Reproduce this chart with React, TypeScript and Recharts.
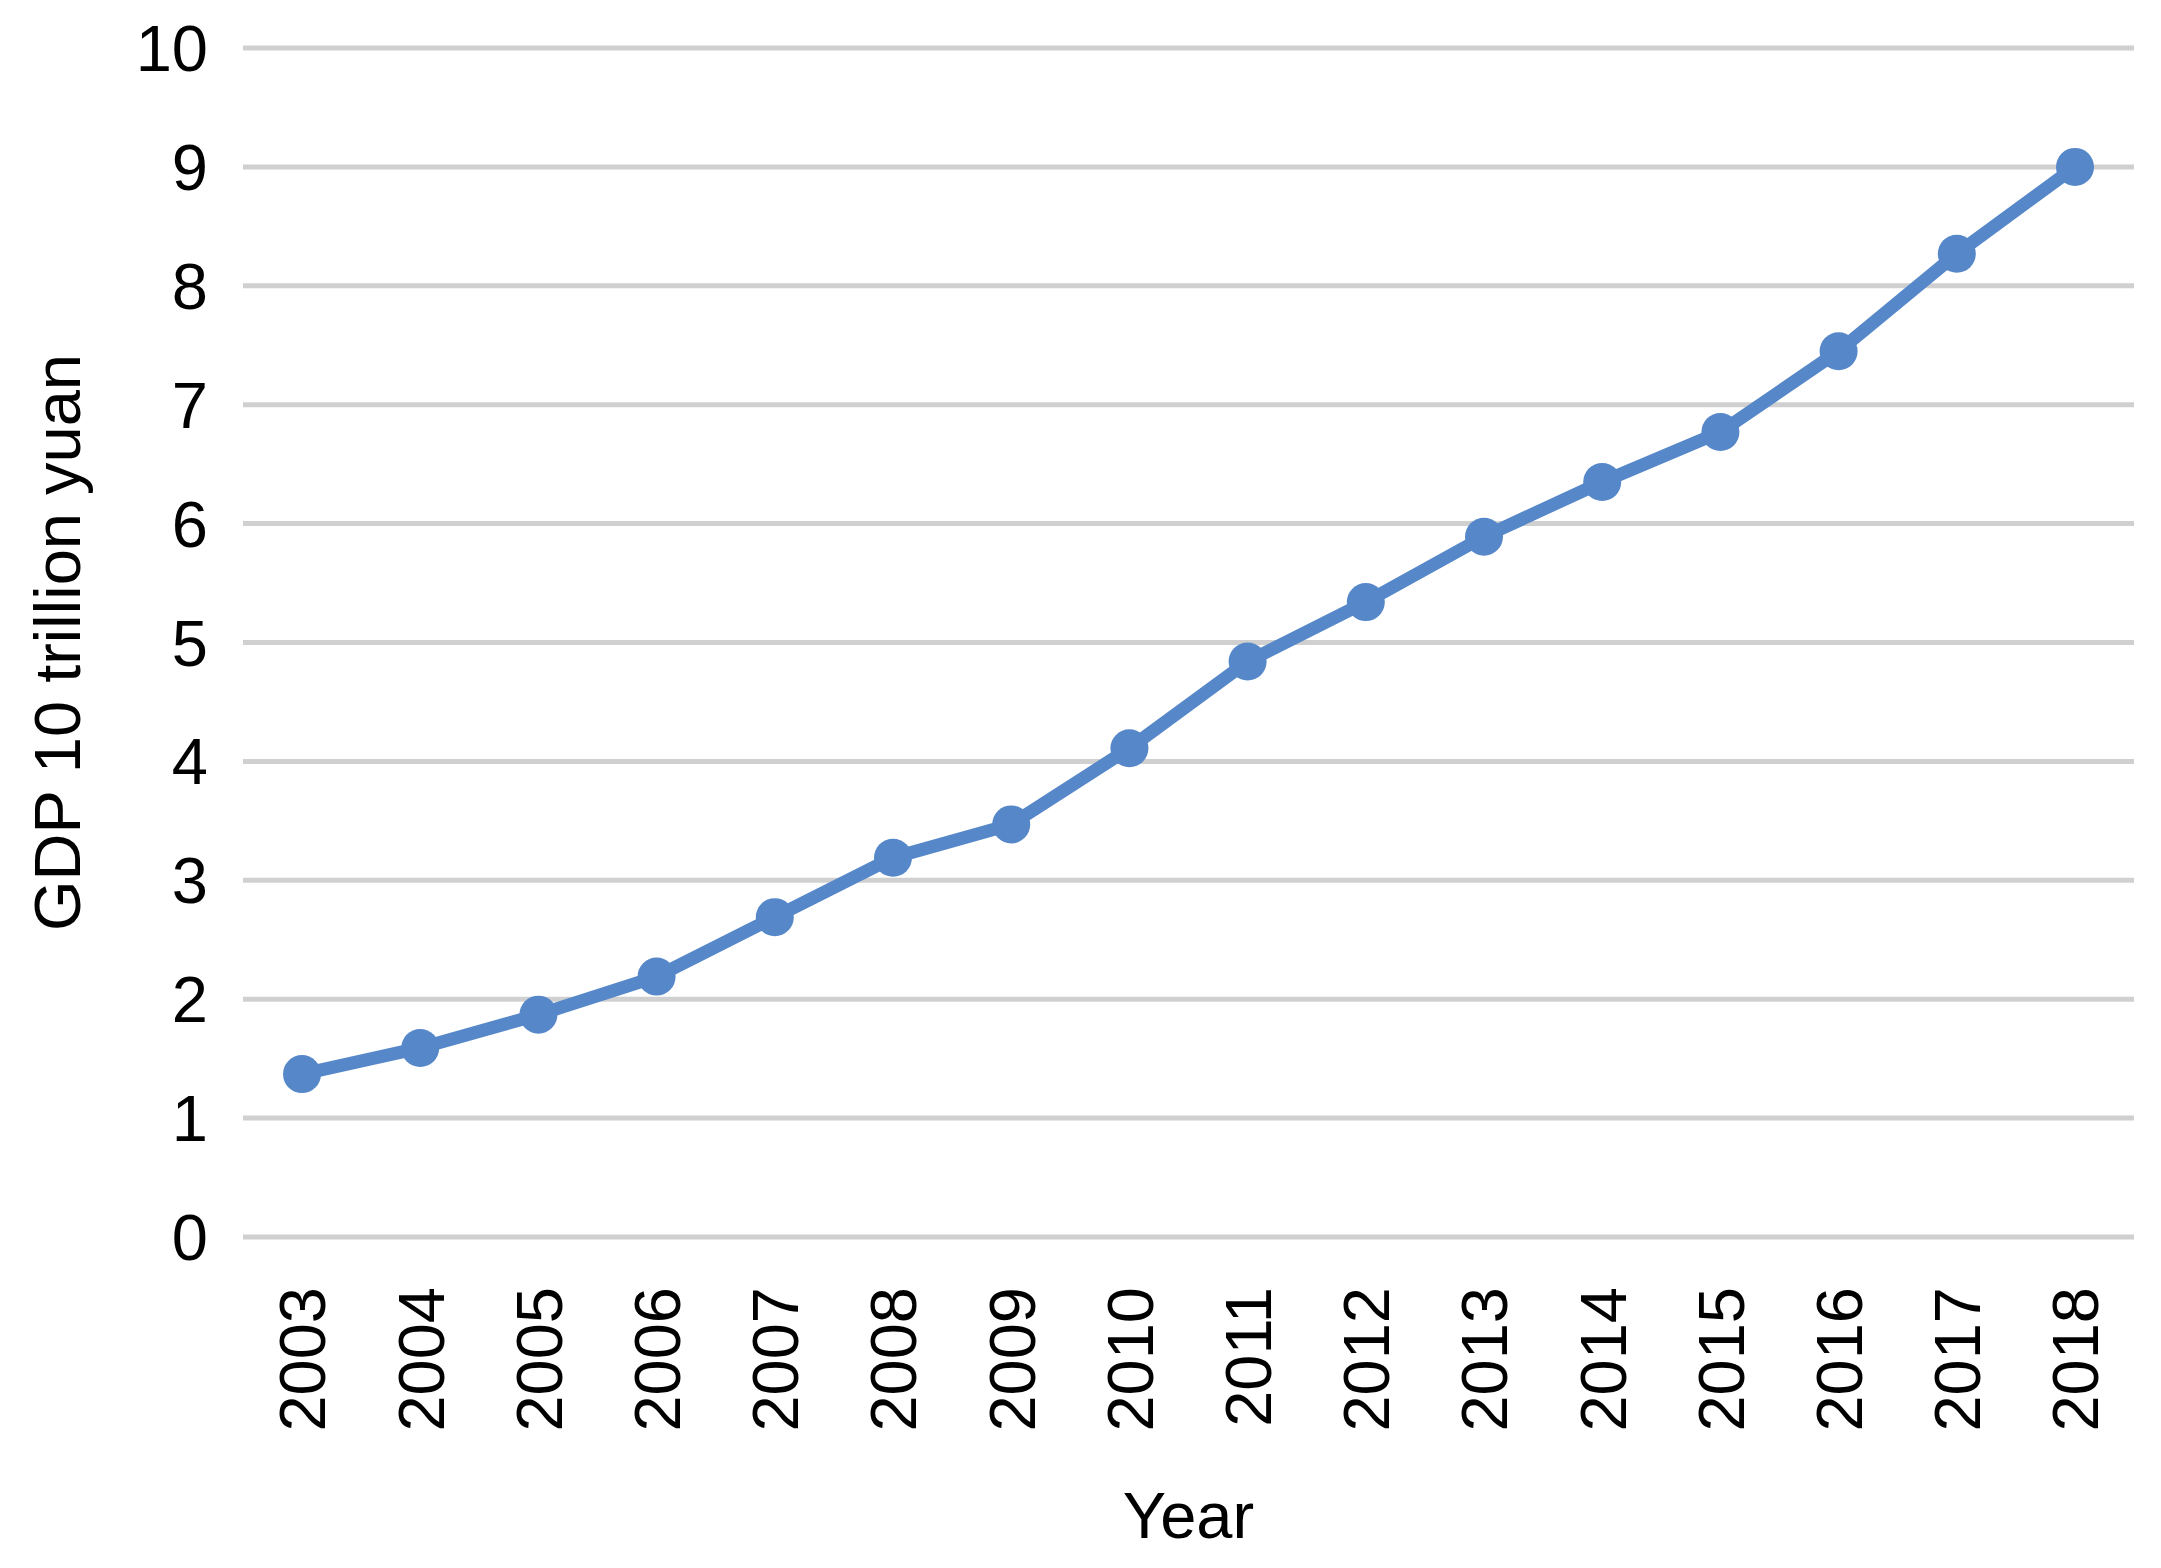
import React from 'react';
import { LineChart, Line, XAxis, YAxis, CartesianGrid, Label } from 'recharts';

// GDP by year (unit: 10 trillion yuan)
const years = ['2003', '2004', '2005', '2006', '2007', '2008', '2009', '2010', '2011', '2012', '2013', '2014', '2015', '2016', '2017', '2018'];
const gdp = [1.37, 1.59, 1.87, 2.19, 2.69, 3.19, 3.47, 4.11, 4.84, 5.34, 5.89, 6.35, 6.77, 7.45, 8.27, 9.0];
const yTicks = [0, 1, 2, 3, 4, 5, 6, 7, 8, 9, 10];

const FONT = '"Liberation Sans", Arial, sans-serif';
const FONT_SIZE = 65;
const LINE_COLOR = '#5587C9';

const data = years.map((year, i) => ({ year, value: gdp[i] }));

// rotated year labels, read bottom to top
const YearTick = (props: any) => {
  const { x, y, payload } = props;
  return (
    <text
      transform={`translate(${x}, ${y + 42}) rotate(-90)`}
      textAnchor="end"
      dy="0.36em"
      fontFamily={FONT}
      fontSize={FONT_SIZE}
      fill="#000"
    >
      {payload.value}
    </text>
  );
};

const App: React.FC = () => {
  return (
    <div style={{ position: 'absolute', left: 0, top: 0, background: '#fff' }}>
      <LineChart
        width={2161}
        height={1568}
        data={data}
        margin={{ top: 48, right: 27, bottom: 21, left: 43 }}
      >
        <CartesianGrid vertical={false} stroke="#d0d0d0" strokeWidth={5} />
        <XAxis
          dataKey="year"
          axisLine={false}
          tickLine={false}
          height={310}
          interval={0}
          padding={{ left: 59, right: 59 }}
          tick={<YearTick />}
        >
          <Label
            value="Year"
            position="insideBottom"
            offset={9}
            style={{ fontFamily: FONT, fontSize: FONT_SIZE, fill: '#000' }}
          />
        </XAxis>
        <YAxis
          width={200}
          domain={[0, 10]}
          ticks={yTicks}
          axisLine={false}
          tickLine={false}
          tickSize={0}
          tickMargin={35}
          tick={{ fontFamily: FONT, fontSize: FONT_SIZE, fill: '#000' }}
        >
          <Label
            content={(p: any) => {
              const vb = p.viewBox;
              const cy = vb.y + vb.height / 2;
              return (
                <text
                  transform={`translate(80, ${cy}) rotate(-90)`}
                  textAnchor="middle"
                  fontFamily={FONT}
                  fontSize={FONT_SIZE}
                  fill="#000"
                >
                  GDP 10 trillion yuan
                </text>
              );
            }}
          />
        </YAxis>
        <Line
          type="linear"
          dataKey="value"
          stroke={LINE_COLOR}
          strokeWidth={13}
          dot={{ r: 19, fill: LINE_COLOR, stroke: 'none' }}
          activeDot={false}
          isAnimationActive={false}
        />
      </LineChart>
    </div>
  );
};

export default App;
